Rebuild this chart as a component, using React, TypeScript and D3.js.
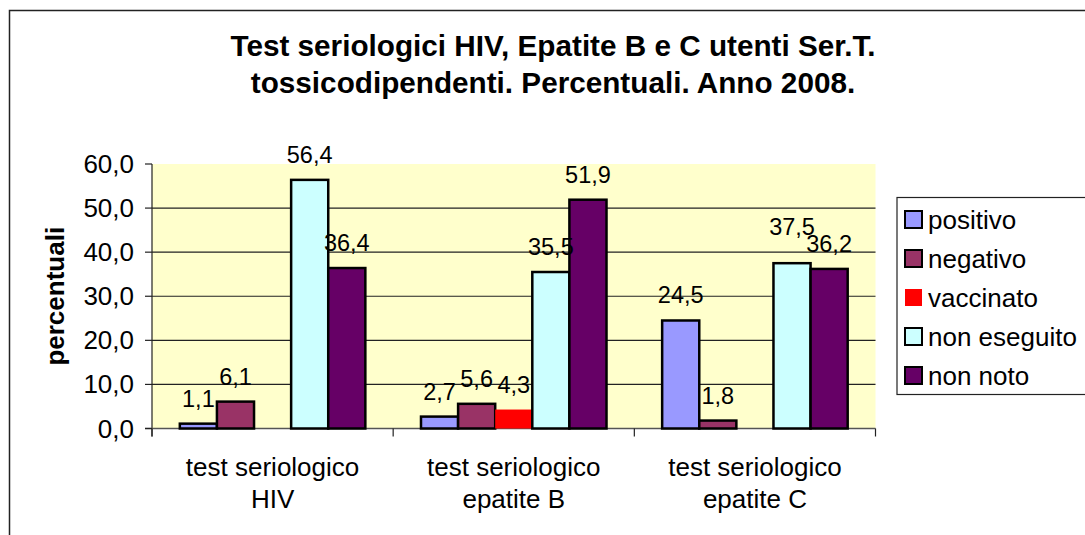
import React from "react";
import * as d3 from "d3";

const categories = [["test seriologico", "HIV"], ["test seriologico", "epatite B"], ["test seriologico", "epatite C"]];
const seriesNames = ["positivo", "negativo", "vaccinato", "non eseguito", "non noto"];
const seriesColors = ["#9999FF", "#993366", "#FF0000", "#CCFFFF", "#660066"];
const seriesStroke = [true, true, false, true, true];
const positivo = [1.1, 2.7, 24.5];
const negativo = [6.1, 5.6, 1.8];
const vaccinato: (number | null)[] = [null, 4.3, null];
const nonEseguito = [56.4, 35.5, 37.5];
const nonNoto = [36.4, 51.9, 36.2];
const yTicks = [0, 10, 20, 30, 40, 50, 60];
const titleLines = ["Test seriologici HIV, Epatite B e C utenti Ser.T.", "tossicodipendenti. Percentuali. Anno 2008."];

const seriesValues: (number | null)[][] = [positivo, negativo, vaccinato, nonEseguito, nonNoto];

const FONT = "'Liberation Sans', Arial, sans-serif";

export default function App() {
  const W = 1085, H = 535;
  const left = 152, right = 875.5, top = 164, bottom = 428.5;
  const y = d3.scaleLinear().domain([0, 60]).range([bottom, top]);
  const x0 = d3.scaleBand<number>().domain(categories.map((_, i) => i)).range([left, right]).paddingInner(0).paddingOuter(0);
  const bw = x0.bandwidth() / 6.5;
  const fmt = (v: number) => v.toFixed(1).replace(".", ",");
  const LFS = 23.5;
  const capH = LFS * 0.716;
  const charW = (s: string) => s.split("").reduce((a, c) => a + (c === "," ? 0.278 : 0.556), 0) * LFS;

  // labels with simple collision avoidance (raise the earlier label above the next)
  type Lab = { x: number; y: number; text: string; w: number };
  const labels: Lab[] = [];
  const bars: { x: number; y: number; h: number; si: number }[] = [];
  categories.forEach((_, ci) => {
    const group: Lab[] = [];
    seriesValues.forEach((vals, si) => {
      const v = vals[ci];
      if (v == null) return;
      const bx = (x0(ci) as number) + 0.75 * bw + si * bw;
      bars.push({ x: bx, y: y(v), h: y(0) - y(v), si });
      const t = fmt(v);
      group.push({ x: bx + bw / 2, y: y(v) - 17, text: t, w: charW(t) });
    });
    for (let i = group.length - 2; i >= 0; i--) {
      const a = group[i], b = group[i + 1];
      const hOverlap = a.x + a.w / 2 > b.x - b.w / 2 + 2;
      const vOverlap = Math.abs(a.y - b.y) < capH;
      if (hOverlap && vOverlap && a.y <= b.y + 0) {
        a.y = b.y - capH;
      } else if (hOverlap && vOverlap) {
        a.y = b.y - capH;
      }
    }
    labels.push(...group);
  });

  return (
    <div style={{ position: "absolute", left: 0, top: 0, width: W, height: H, background: "#fff" }}>
      <svg width={W} height={H} style={{ display: "block" }} fontFamily={FONT}>
        <rect x={9.5} y={10.5} width={W + 20} height={H + 20} fill="#fff" stroke="#222" strokeWidth={1.5} />
        {titleLines.map((t, i) => (
          <text key={i} x={553} y={55.5 + i * 37.5} textAnchor="middle" fontSize={29.7} fontWeight="bold" fill="#000">{t}</text>
        ))}
        <rect x={left} y={top} width={right - left} height={bottom - top} fill="#FFFFCC" />
        {yTicks.filter(t => t > 0 && t < 60).map(t => (
          <line key={t} x1={left} x2={right} y1={y(t)} y2={y(t)} stroke="#222" strokeWidth={1.2} />
        ))}
        <line x1={left} x2={left} y1={top} y2={bottom + 8} stroke="#222" strokeWidth={1.2} />
        <line x1={left - 7} x2={right} y1={bottom} y2={bottom} stroke="#555" strokeWidth={1.4} />
        {yTicks.map(t => (
          <g key={t}>
            <line x1={left - 7} x2={left} y1={y(t)} y2={y(t)} stroke="#222" strokeWidth={1.2} />
            <text x={left - 18} y={y(t) + 9} textAnchor="end" fontSize={26} fill="#000">{fmt(t)}</text>
          </g>
        ))}
        {[0, 1, 2, 3].map(i => {
          const xx = left + i * x0.step();
          return <line key={i} x1={xx} x2={xx} y1={bottom} y2={bottom + 8} stroke="#222" strokeWidth={1.2} />;
        })}
        {categories.map((c, i) => (
          <g key={i}>
            {c.map((s, j) => (
              <text key={j} x={(x0(i) as number) + x0.bandwidth() / 2} y={476 + j * 32} textAnchor="middle" fontSize={26} fill="#000">{s}</text>
            ))}
          </g>
        ))}
        {bars.map((b, i) => (
          <rect key={i} x={b.x} y={b.y} width={bw} height={b.h} fill={seriesColors[b.si]}
            stroke={seriesStroke[b.si] ? "#000" : "none"} strokeWidth={2.5} />
        ))}
        {labels.map((l, i) => (
          <text key={i} x={l.x} y={l.y} textAnchor="middle" fontSize={LFS} fill="#000">{l.text}</text>
        ))}
        <text transform={`translate(64,${(top + bottom) / 2}) rotate(-90)`} textAnchor="middle" fontSize={26} fontWeight="bold" fill="#000">percentuali</text>
        <rect x={897} y={197.5} width={200} height={197} fill="#fff" stroke="#222" strokeWidth={1.2} />
        {seriesNames.map((n, i) => {
          const cy = 219.5 + i * 39;
          return (
            <g key={i}>
              <rect x={905} y={cy - 8.5} width={17} height={17} fill={seriesColors[i]}
                stroke={seriesStroke[i] ? "#000" : "none"} strokeWidth={2} />
              <text x={928} y={cy + 9.5} fontSize={26} fill="#000">{n}</text>
            </g>
          );
        })}
      </svg>
    </div>
  );
}
